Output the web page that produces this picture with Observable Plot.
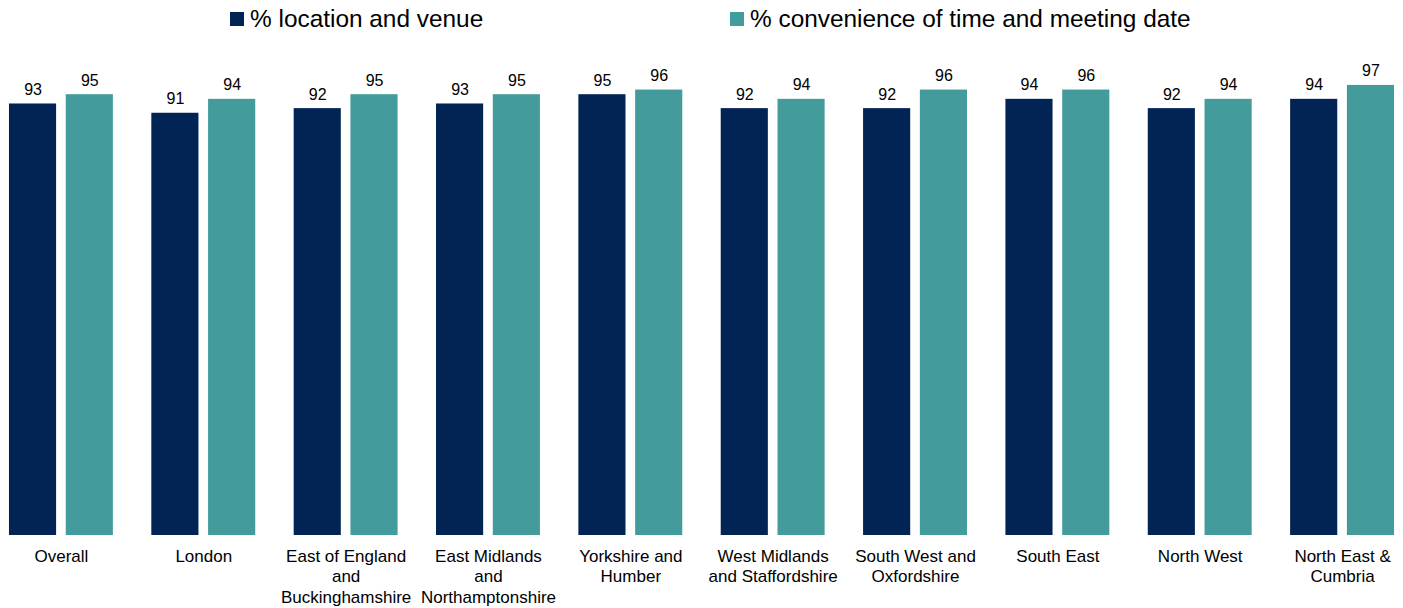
<!DOCTYPE html>
<html><head><meta charset="utf-8">
<script src="https://cdn.jsdelivr.net/npm/d3@7"></script>
<script src="https://cdn.jsdelivr.net/npm/@observablehq/plot@0.6"></script>
<style>
body{margin:0;background:#fff;font-family:"Liberation Sans",Arial,sans-serif;}
#legend{position:relative;height:45px;width:1403px;}
.item{position:absolute;top:5px;font-size:24.4px;line-height:28px;color:#000;white-space:nowrap;}
.sw{display:inline-block;width:14px;height:14px;margin-right:6px;vertical-align:1px;}
#chart svg{display:block;}
</style></head><body>
<div id="legend"></div><div id="chart"></div>
<script>
const regions = ["Overall","London","East of England and Buckinghamshire","East Midlands and Northamptonshire","Yorkshire and Humber","West Midlands and Staffordshire","South West and Oxfordshire","South East","North West","North East & Cumbria"];
const regionLabels = ["Overall","London","East of England\nand\nBuckinghamshire","East Midlands\nand\nNorthamptonshire","Yorkshire and\nHumber","West Midlands\nand Staffordshire","South West and\nOxfordshire","South East","North West","North East &\nCumbria"];
const seriesNames = ["% location and venue","% convenience of time and meeting date"];
const locationVenue = [93,91,92,93,95,92,92,94,92,94];
const convenienceTime = [95,94,95,95,96,94,96,96,94,97];
const colors = ["#022454","#439b9b"];
const legendLeft = [230,730];

const data = regions.flatMap((r,i)=>[
  {region:r, series:seriesNames[0], value:locationVenue[i]},
  {region:r, series:seriesNames[1], value:convenienceTime[i]}
]);
const labels = regions.map((r,i)=>({region:r, label:regionLabels[i]}));

const legend = document.getElementById("legend");
seriesNames.forEach((s,i)=>{
  const d = document.createElement("div");
  d.className="item"; d.style.left = legendLeft[i]+"px";
  const sw = document.createElement("span"); sw.className="sw"; sw.style.background=colors[i];
  d.appendChild(sw); d.appendChild(document.createTextNode(s));
  legend.appendChild(d);
});

const chart = Plot.plot({
  width:1403, height:563, marginTop:26, marginBottom:73, marginLeft:0, marginRight:0,
  style:{fontFamily:"'Liberation Sans',Arial,sans-serif", fontSize:"15px", background:"white", color:"#000"},
  fx:{domain:regions, paddingInner:0.27, paddingOuter:0.063, round:false, axis:null, label:null},
  x:{domain:seriesNames, paddingInner:0.17, paddingOuter:0, round:false, axis:null},
  y:{domain:[0,100], axis:null},
  color:{domain:seriesNames, range:colors},
  marks:[
    Plot.barY(data,{fx:"region", x:"series", y:"value", fill:"series"}),
    Plot.text(data,{fx:"region", x:"series", y:"value", text:d=>String(d.value), lineAnchor:"bottom", dy:-9, fill:"#000", fontSize:16}),
    Plot.text(labels,{fx:"region", y:()=>0, text:"label", lineAnchor:"top", dy:12, lineHeight:1.2, fill:"#000", fontSize:17})
  ]
});
document.getElementById("chart").appendChild(chart);
</script>
</body></html>
